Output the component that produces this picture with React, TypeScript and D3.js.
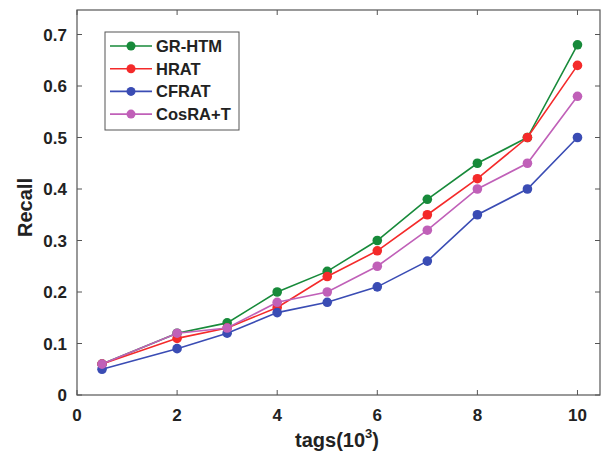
import React from "react";
import * as d3 from "d3";

const xs = [0.5, 2, 3, 4, 5, 6, 7, 8, 9, 10];
const seriesNames = ["GR-HTM", "HRAT", "CFRAT", "CosRA+T"];
const grHtm = [0.06, 0.12, 0.14, 0.2, 0.24, 0.3, 0.38, 0.45, 0.5, 0.68];
const hrat = [0.06, 0.11, 0.13, 0.17, 0.23, 0.28, 0.35, 0.42, 0.5, 0.64];
const cfrat = [0.05, 0.09, 0.12, 0.16, 0.18, 0.21, 0.26, 0.35, 0.4, 0.5];
const cosraT = [0.06, 0.12, 0.13, 0.18, 0.2, 0.25, 0.32, 0.4, 0.45, 0.58];
const colors = ["#178a3a", "#f42a2a", "#3a4cb4", "#c060b8"];
const xTicks = [0, 2, 4, 6, 8, 10];
const yTicks = [0, 0.1, 0.2, 0.3, 0.4, 0.5, 0.6, 0.7];

const W = 603, H = 462;
const L = 77, R = 600, T = 10, B = 395;

export default function App() {
  const x = d3.scaleLinear().domain([0, 10.45]).range([L, R]);
  const y = d3.scaleLinear().domain([0, 0.7476]).range([B, T]);
  const all = [grHtm, hrat, cfrat, cosraT];
  const line = d3.line<number>().x((_, i) => x(xs[i])).y((d) => y(d));
  const axisColor = "#555";
  const font = "Arial, 'Liberation Sans', sans-serif";
  const order = [0, 1, 2, 3];
  return (
    <svg width={W} height={H} style={{ position: "absolute", left: 0, top: 0, background: "#fff" }} fontFamily={font}>
      <rect x={L} y={T} width={R - L} height={B - T} fill="#fff" stroke={axisColor} strokeWidth={1.2} />
      {xTicks.map((t) => (
        <g key={"x" + t}>
          <line x1={x(t)} x2={x(t)} y1={B} y2={B - 5} stroke={axisColor} />
          <line x1={x(t)} x2={x(t)} y1={T} y2={T + 5} stroke={axisColor} />
          <text x={x(t)} y={B + 26} textAnchor="middle" fontSize={17} fontWeight="bold" fill="#222">{t}</text>
        </g>
      ))}
      {yTicks.map((t) => (
        <g key={"y" + t}>
          <line x1={L} x2={L + 5} y1={y(t)} y2={y(t)} stroke={axisColor} />
          <line x1={R} x2={R - 5} y1={y(t)} y2={y(t)} stroke={axisColor} />
          <text x={L - 10} y={y(t) + 6} textAnchor="end" fontSize={17} fontWeight="bold" fill="#222">{t === 0 ? "0" : t.toFixed(1)}</text>
        </g>
      ))}
      <text x={337} y={447} textAnchor="middle" fontSize={20} fontWeight="bold" fill="#222">
        tags(10<tspan dy={-9} fontSize={13}>3</tspan><tspan dy={9}>)</tspan>
      </text>
      <text transform={`translate(32,${(T + B) / 2 + 5}) rotate(-90)`} textAnchor="middle" fontSize={20} fontWeight="bold" fill="#222">Recall</text>
      {order.map((si) => (
        <g key={"s" + si}>
          <path d={line(all[si]) || ""} fill="none" stroke={colors[si]} strokeWidth={1.6} />
          {all[si].map((v, i) => (
            <circle key={i} cx={x(xs[i])} cy={y(v)} r={4.8} fill={colors[si]} />
          ))}
        </g>
      ))}
      <rect x={105} y={32} width={134} height={98} fill="#fff" stroke={axisColor} strokeWidth={1} />
      {seriesNames.map((n, i) => {
        const yy = 46 + i * 22.7;
        return (
          <g key={n}>
            <line x1={110} x2={152} y1={yy} y2={yy} stroke={colors[i]} strokeWidth={1.6} />
            <circle cx={131} cy={yy} r={4.5} fill={colors[i]} />
            <text x={156} y={yy + 6} fontSize={16.5} fontWeight="bold" fill="#222">{n}</text>
          </g>
        );
      })}
    </svg>
  );
}
